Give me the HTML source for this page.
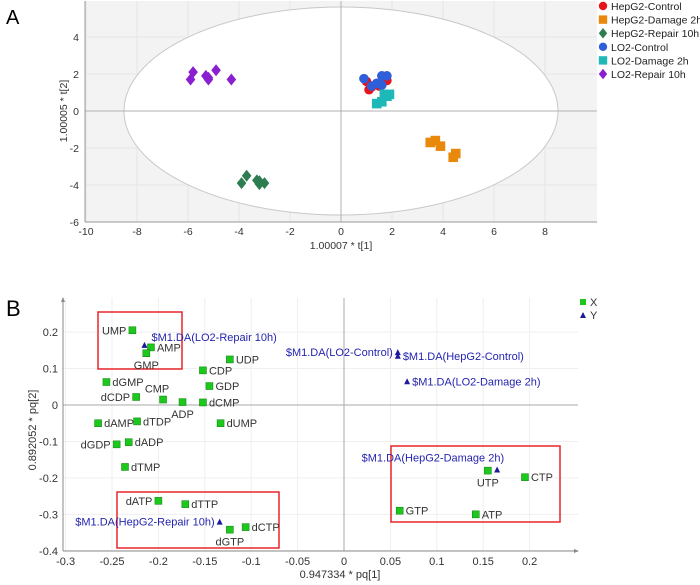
<!DOCTYPE html>
<html><head><meta charset="utf-8">
<style>
html,body{margin:0;padding:0;background:#fff;}
svg{display:block;font-family:"Liberation Sans",Arial,sans-serif;}
</style></head>
<body>
<svg id="fig" width="700" height="585" viewBox="0 0 700 585" xmlns="http://www.w3.org/2000/svg">
<text x="6" y="24" font-size="20">A</text>
<text x="6" y="316" font-size="22">B</text>
<g id="pa"></g>
<g id="pb"></g>
</svg>
<script>
// ---------- Panel A data ----------
const aGroups = ["HepG2-Control","HepG2-Damage 2h","HepG2-Repair 10h","LO2-Control","LO2-Damage 2h","LO2-Repair 10h"];
const aColors = ["#e8141b","#e8890c","#2e7d50","#2f5fd8","#1fb8b8","#8a1fd0"];
const aShapes = ["circle","square","diamond","circle","square","diamond"];
const aX = [
  [1.1,1.0,1.5,1.8,1.7,1.2],
  [3.5,3.7,3.9,4.4,4.5],
  [-3.9,-3.7,-3.2,-3.2,-3.0,-3.3],
  [0.9,1.6,1.8,1.2,1.6,1.4],
  [1.4,1.6,1.8,1.9,1.7],
  [-5.8,-5.9,-5.3,-5.2,-4.9,-4.3,-5.2]
];
const aY = [
  [1.15,1.6,1.35,1.65,1.8,1.3],
  [-1.7,-1.6,-1.9,-2.5,-2.3],
  [-3.9,-3.5,-3.8,-3.95,-3.9,-3.75],
  [1.75,1.9,1.9,1.35,1.4,1.5],
  [0.4,0.5,0.8,0.9,0.9],
  [2.1,1.7,1.9,1.7,2.2,1.7,1.8]
];
const aXTicks = [-10,-8,-6,-4,-2,0,2,4,6,8];
const aYTicks = [-6,-4,-2,0,2,4];

// ---------- Panel B data ----------
const bNames = ["UMP","AMP","GMP","UDP","CDP","GDP","dCMP","ADP","CMP","dCDP","dGMP","dAMP","dTDP","dUMP","dGDP","dADP","dTMP","dATP","dTTP","dGTP","dCTP","UTP","CTP","GTP","ATP"];
const bX = [-0.228,-0.208,-0.213,-0.123,-0.152,-0.145,-0.152,-0.174,-0.195,-0.224,-0.256,-0.265,-0.223,-0.133,-0.245,-0.232,-0.236,-0.200,-0.171,-0.123,-0.106,0.155,0.195,0.060,0.142];
const bY = [0.205,0.158,0.142,0.125,0.095,0.052,0.007,0.008,0.015,0.022,0.063,-0.050,-0.045,-0.050,-0.108,-0.102,-0.170,-0.263,-0.272,-0.342,-0.335,-0.180,-0.198,-0.290,-0.300];
const bSide = ["l","r","b","r","r","r","r","b","t","l","r","r","r","r","l","r","r","l","r","b","r","b","r","r","r"];
const yNames = ["$M1.DA(LO2-Repair 10h)","$M1.DA(LO2-Control)","$M1.DA(HepG2-Control)","$M1.DA(LO2-Damage 2h)","$M1.DA(HepG2-Repair 10h)","$M1.DA(HepG2-Damage 2h)"];
const yX = [-0.215,0.058,0.058,0.068,-0.134,0.165];
const yY = [0.165,0.145,0.135,0.065,-0.320,-0.177];
const ySide = ["ur","l","r","r","l","ul"];
const bXTicks = [-0.3,-0.25,-0.2,-0.15,-0.1,-0.05,0,0.05,0.1,0.15,0.2];
const bYTicks = [-0.4,-0.3,-0.2,-0.1,0,0.1,0.2];

const NS="http://www.w3.org/2000/svg";
function mk(parent,tag,attrs,text){const e=document.createElementNS(NS,tag);for(const k in attrs)e.setAttribute(k,attrs[k]);if(text!==undefined)e.textContent=text;parent.appendChild(e);return e;}

// ---------- Panel A ----------
const pa=document.getElementById('pa');
const axL=85, axR=597, axT=1, axB=222;
const ax=v=>341+v*25.5;
const ay=v=>111-v*18.5;
let e=mk(pa,'rect',{x:axL,y:axT,width:axR-axL,height:axB-axT,fill:'#f3f3f3'});

for(const t of aXTicks){mk(pa,'line',{x1:ax(t),x2:ax(t),y1:axT,y2:axB,stroke:'#e6e6e6'});}
for(const t of aYTicks){mk(pa,'line',{x1:axL,x2:axR,y1:ay(t),y2:ay(t),stroke:'#e6e6e6'});}
e=mk(pa,'ellipse',{cx:ax(0),cy:ay(0),rx:217,ry:104,fill:'#fff',stroke:'#c8c8c8','stroke-width':1});

mk(pa,'line',{x1:ax(0),x2:ax(0),y1:axT,y2:axB,stroke:'#b0b0b0'});
mk(pa,'line',{x1:axL,x2:axR,y1:ay(0),y2:ay(0),stroke:'#b0b0b0'});
mk(pa,'line',{x1:axL,x2:axL,y1:axT,y2:axB,stroke:'#999'});
mk(pa,'line',{x1:axL,x2:axR,y1:axB,y2:axB,stroke:'#999'});
for(const t of aXTicks){
  e=mk(pa,'text',{x:ax(t),y:axB+13,'font-size':10.5,'text-anchor':'middle',fill:'#333'},String(t));
  
}
for(const t of aYTicks){
  e=mk(pa,'text',{x:axL-6,y:ay(t)+4,'font-size':10.5,'text-anchor':'end',fill:'#333'},String(t));
  
}
e=mk(pa,'text',{x:341,y:249,'font-size':10.5,'text-anchor':'middle',fill:'#333'},'1.00007 * t[1]');

e=mk(pa,'text',{x:0,y:0,'font-size':10.5,'text-anchor':'middle',fill:'#333',transform:'translate(67,111) rotate(-90)'},'1.00005 * t[2]');

function shape(g,s,cx,cy,col,r){
  if(s==='circle')return mk(g,'circle',{cx:cx,cy:cy,r:r,fill:col});
  if(s==='square')return mk(g,'rect',{x:cx-r,y:cy-r,width:2*r,height:2*r,fill:col});
  return mk(g,'polygon',{points:`${cx},${cy-r*1.25} ${cx+r},${cy} ${cx},${cy+r*1.25} ${cx-r},${cy}`,fill:col});
}
aGroups.forEach((g,i)=>{
  const grp=mk(pa,'g',{});
  
  
  aX[i].forEach((x,j)=>{
    const m=shape(grp,aShapes[i],ax(x),ay(aY[i][j]),aColors[i],4.8);
    
    
  });
  const lg=mk(pa,'g',{});
  
  
  const ly=6+i*13.6;
  shape(lg,aShapes[i],603,ly,aColors[i],4.2);
  mk(lg,'text',{x:611,y:ly+4,'font-size':10.5,fill:'#222'},g);
});

// ---------- Panel B ----------
const pb=document.getElementById('pb');
const bL=63,bR=578,bT=298,bB=551;
const bx=v=>344+v*928;
const by=v=>405-v*364.5;
for(const t of bXTicks){mk(pb,'line',{x1:bx(t),x2:bx(t),y1:bT,y2:bB,stroke:'#efefef'});}
for(const t of bYTicks){mk(pb,'line',{x1:bL,x2:bR,y1:by(t),y2:by(t),stroke:'#efefef'});}
mk(pb,'line',{x1:bx(0),x2:bx(0),y1:bT,y2:bB,stroke:'#aaa'});
mk(pb,'line',{x1:bL,x2:bR,y1:by(0),y2:by(0),stroke:'#aaa'});
mk(pb,'line',{x1:bL,x2:bL,y1:bT,y2:bB,stroke:'#888'});
mk(pb,'line',{x1:bL,x2:bR,y1:bB,y2:bB,stroke:'#888'});
mk(pb,'polygon',{points:`${bL-2},${bT+4} ${bL+2},${bT+4} ${bL},${bT-1}`,fill:'#888'});
mk(pb,'polygon',{points:`${bR-4},${bB-2} ${bR-4},${bB+2} ${bR+1},${bB}`,fill:'#888'});
for(const t of bXTicks){
  e=mk(pb,'text',{x:bx(t),y:bB+14,'font-size':11,'text-anchor':'middle',fill:'#333'},String(t));
  
}
for(const t of bYTicks){
  e=mk(pb,'text',{x:bL-5,y:by(t)+4,'font-size':11,'text-anchor':'end',fill:'#333'},String(t));
  
}
e=mk(pb,'text',{x:340,y:578,'font-size':11,'text-anchor':'middle',fill:'#333'},'0.947334 * pq[1]');

e=mk(pb,'text',{x:0,y:0,'font-size':11,'text-anchor':'middle',fill:'#333',transform:'translate(36,430) rotate(-90)'},'0.892052 * pq[2]');

[[98,312,84,57],[117,492,162,56],[391,446,169,76]].forEach(b=>{
  const r=mk(pb,'rect',{x:b[0],y:b[1],width:b[2],height:b[3],fill:'none',stroke:'#e8262b','stroke-width':1.5});
  
  
});
bNames.forEach((n,i)=>{
  const px=bx(bX[i]),py=by(bY[i]);
  const m=mk(pb,'rect',{x:px-3.5,y:py-3.5,width:7,height:7,fill:'#1cc81c',stroke:'#117a11','stroke-width':0.5});
  
  
  let tx=px+6,ty=py+4,an='start';
  if(bSide[i]==='l'){tx=px-6;an='end';}
  else if(bSide[i]==='b'){tx=px;ty=py+16;an='middle';}
  else if(bSide[i]==='t'){tx=px-6;ty=py-7;an='middle';}
  const t=mk(pb,'text',{x:tx,y:ty,'font-size':11,'text-anchor':an,fill:'#333'},n);
  
  
});
yNames.forEach((n,i)=>{
  const px=bx(yX[i]),py=by(yY[i]);
  const m=mk(pb,'polygon',{points:`${px-3},${py+3} ${px+3},${py+3} ${px},${py-3}`,fill:'#1a1a9a'});
  
  
  let tx=px+5,ty=py+4,an='start';
  if(ySide[i]==='l'){tx=px-5;an='end';}
  else if(ySide[i]==='ur'){tx=px+7;ty=py-4;}
  else if(ySide[i]==='ul'){tx=px+7;ty=py-8;an='end';}
  const t=mk(pb,'text',{x:tx,y:ty,'font-size':11,'text-anchor':an,fill:'#2424b0'},n);
  
  
});
let lgb=mk(pb,'g',{});


mk(lgb,'rect',{x:580,y:299,width:6,height:6,fill:'#1cc81c'});
mk(lgb,'text',{x:590,y:306,'font-size':11,fill:'#333'},'X');
lgb=mk(pb,'g',{});


mk(lgb,'polygon',{points:'580,318 586,318 583,312',fill:'#1a1a9a'});
mk(lgb,'text',{x:590,y:319,'font-size':11,fill:'#333'},'Y');
</script>
</body></html>
